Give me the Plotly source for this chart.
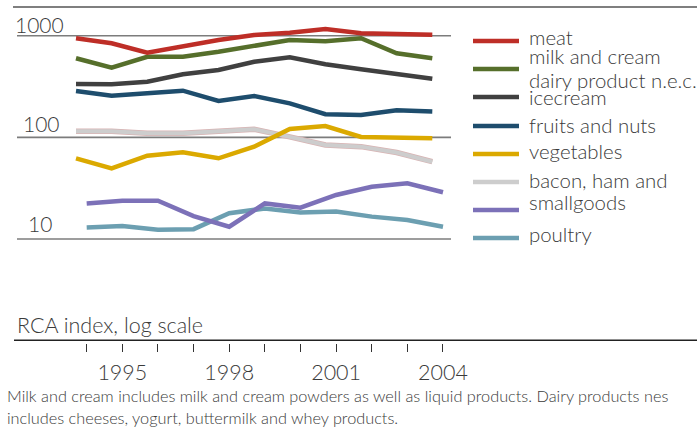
import plotly.graph_objects as go

# ---- data -------------------------------------------------------------
years = list(range(1994, 2005))
tick_labels = ["", "1995", "", "", "1998", "", "", "2001", "", "", "2004"]

meat = [943, 842, 680, 792, 907, 1016, 1070, 1164, 1057, 1040, 1023]
milk_and_cream = [600, 484, 621, 621, 696, 792, 907, 881, 943, 671, 600]
dairy_nec = [335, 333, 353, 417, 460, 555, 613, 523, 467, 417, 378]
icecream = [286, 257, 271, 288, 228, 255, 216, 169, 166, 185, 180]
fruits_and_nuts = [62.2, 49.6, 66, 71.2, 62.2, 81, 121, 129, 101, 100, 98]
vegetables = [115, 115, 110, 110, 115, 120, 101, 84, 81, 71, 57.6]
bacon_ham_smallgoods = [22.4, 23.8, 23.8, 16.8, 13.2, 22.4, 20.3, 27.1, 32.7, 35.3, 28.8]
poultry = [13.0, 13.4, 12.3, 12.5, 17.9, 20.0, 18.2, 18.6, 16.6, 15.4, 13.2]

grid_values = [10, 100, 1000]
grid_labels = ["10", "100", "1000"]

legend_lines = ["meat", "milk and cream", "dairy product n.e.c.", "icecream",
                "fruits and nuts", "vegetables", "bacon, ham and", "smallgoods",
                "poultry"]

axis_title = "RCA index, log scale"
note_lines = [
    "Milk and cream includes milk and cream powders as well as liquid products. "
    "Dairy products nes",
    "includes cheeses, yogurt, buttermilk and whey products.",
]

# series: name, values, colour, x axis
series = [
    ("meat", meat, "#be2e27", "x2"),
    ("milk and cream", milk_and_cream, "#566f2b", "x2"),
    ("dairy product n.e.c.", dairy_nec, "#404040", "x2"),
    ("icecream", icecream, "#1e4d6d", "x2"),
    ("fruits and nuts", fruits_and_nuts, "#dba900", "x2"),
    ("vegetables", vegetables, "#cdcdcd", "x2"),
    ("bacon, ham and smallgoods", bacon_ham_smallgoods, "#7c71b8", "x"),
    ("poultry", poultry, "#6c9fb1", "x"),
]

# ---- page geometry ------------------------------------------------------
W, H = 697, 430
ML, MR, MT, MB = 15, 0, 7, 87
PW, PH = W - ML - MR, H - MT - MB
FONT = "Lato"
TXT = "#3a3a3a"


def px(xp):
    return (xp - ML) / PW


def py(yp):
    return (H - MB - yp) / PH


fig = go.Figure()

# horizontal reference lines at the labelled decades
for v in grid_values:
    fig.add_trace(go.Scatter(
        x=[1992.044, 2004.225], y=[v, v], mode="lines",
        line=dict(color="#7c7c7c", width=1.6),
        hoverinfo="skip", showlegend=False, xaxis="x",
    ))

# data lines, drawn bottom-up so the first series sits on top
for name, vals, col, xa in reversed(series):
    if col == "#cdcdcd":
        # faint rose edge under the pale grey line
        fig.add_trace(go.Scatter(
            x=years, y=vals, mode="lines",
            line=dict(color="#d8b4b4", width=5.5),
            xaxis=xa, showlegend=False, hoverinfo="skip",
        ))
    fig.add_trace(go.Scatter(
        x=years, y=vals, name=name, mode="lines",
        line=dict(color=col, width=4.5 if col != "#cdcdcd" else 4),
        xaxis=xa, showlegend=False,
    ))

shapes = [
    dict(type="line", xref="paper", yref="paper", x0=px(13), x1=1,
         y0=1, y1=1, line=dict(color="#555555", width=1.5)),
    dict(type="line", xref="paper", yref="paper", x0=px(14), x1=1,
         y0=py(340.2), y1=py(340.2), line=dict(color="#222222", width=1.5)),
]

annotations = []

# legend: swatches and text
swatch_y = [41, 69, 97, 126, 154, 182, 210, 238]
for (name, vals, col, xa), sy in zip(series, swatch_y):
    shapes.append(dict(type="line", xref="paper", yref="paper",
                       x0=px(473), x1=px(519), y0=py(sy), y1=py(sy),
                       line=dict(color=col, width=4.5)))

legend_y = [36.6, 56.3, 79.6, 97.2, 125, 150.6, 180, 202.3, 234]
for txt, ly in zip(legend_lines, legend_y):
    annotations.append(dict(text=txt, xref="paper", yref="paper",
                            x=px(527), y=py(ly), xanchor="left", yanchor="middle",
                            showarrow=False,
                            font=dict(family=FONT, size=20.4, color=TXT, weight=300)))

# decade labels above the reference lines
label_pos = [(40, 223.6), (41, 123.6), (39.5, 24.2)]
for txt, (lx, ly) in zip(grid_labels, label_pos):
    annotations.append(dict(text=txt, xref="paper", yref="paper",
                            x=px(lx), y=py(ly), xanchor="center", yanchor="middle",
                            showarrow=False,
                            font=dict(family=FONT, size=21, color=TXT, weight=300)))

annotations.append(dict(text=axis_title, xref="paper", yref="paper",
                        x=px(15), y=py(324.6), xanchor="left", yanchor="middle",
                        showarrow=False,
                        font=dict(family=FONT, size=21.5, color=TXT, weight=300)))

for txt, ly in zip(note_lines, [395.5, 417]):
    annotations.append(dict(text=txt, xref="paper", yref="paper",
                            x=px(5), y=py(ly), xanchor="left", yanchor="middle",
                            showarrow=False,
                            font=dict(family=FONT, size=16.3, color=TXT, weight=300)))

fig.update_layout(
    width=W, height=H,
    margin=dict(l=ML, r=MR, t=MT, b=MB),
    paper_bgcolor="white", plot_bgcolor="white",
    showlegend=False,
    font=dict(family=FONT, color=TXT),
    xaxis=dict(range=[1991.988, 2011.129], tickvals=years, ticktext=tick_labels,
               ticks="outside", ticklen=8, tickwidth=1.2, tickcolor="#333333",
               ticklabelstandoff=2,
               showgrid=False, zeroline=False, showline=False,
               tickfont=dict(family=FONT, size=21.5, color=TXT, weight=300)),
    xaxis2=dict(range=[1992.288, 2011.429], overlaying="x", visible=False),
    yaxis=dict(type="log", range=[-0.0231, 3.2823], showgrid=False,
               showticklabels=False, ticks="", zeroline=False, showline=False),
    shapes=shapes,
    annotations=annotations,
)

fig.write_html("out.html")
